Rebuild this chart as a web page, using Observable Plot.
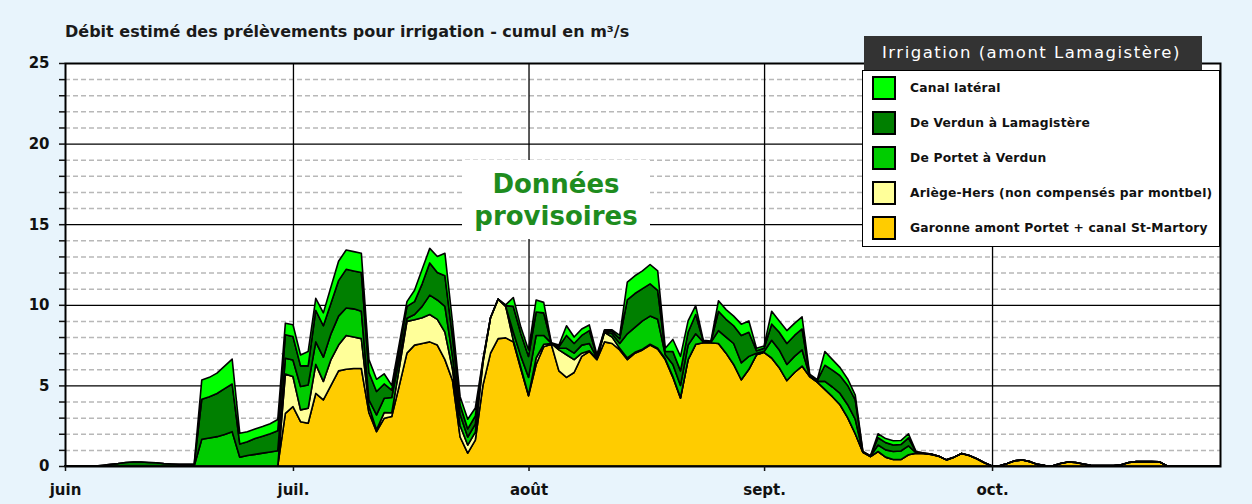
<!DOCTYPE html>
<html><head><meta charset="utf-8">
<script src="https://cdn.jsdelivr.net/npm/d3@7"></script>
<script src="https://cdn.jsdelivr.net/npm/@observablehq/plot@0.6"></script>
<style>
html,body{margin:0;padding:0;background:#E8F4FC;}
#wrap{position:relative;width:1252px;height:504px;background:#E8F4FC;font-family:"DejaVu Sans",sans-serif;overflow:hidden;}
#wrap svg{position:absolute;left:0;top:0;}
#title{position:absolute;left:65px;top:24px;font-size:16px;line-height:16px;font-weight:bold;color:#1a1a1a;white-space:nowrap;}
#prov{position:absolute;left:462px;top:160px;width:188px;height:79px;background:#fff;color:#1E8C1E;font-weight:bold;font-size:26px;line-height:32px;text-align:center;padding-top:8px;box-sizing:border-box;}
#lghead{position:absolute;left:864px;top:36px;width:338px;height:34px;background:#333;color:#fff;font-size:16.5px;letter-spacing:1.5px;line-height:34px;text-indent:18px;white-space:nowrap;}
#lgbody{position:absolute;left:862px;top:70px;width:358px;height:177px;background:#fff;border:1.5px solid #000;box-sizing:border-box;}
.item{position:absolute;left:9px;height:24px;font-size:12.3px;font-weight:bold;color:#111;white-space:nowrap;}
.sw{position:absolute;left:0;top:0;width:24px;height:24px;border:2px solid #000;box-sizing:border-box;}
.lab{position:absolute;left:38px;top:0;line-height:24px;letter-spacing:0.2px;}
</style></head>
<body><div id="wrap"></div>
<script>
// Series (bottom to top of the stack), values in m3/s, daily from 1 June to 31 October
const seriesNames = ["Garonne amont Portet + canal St-Martory","Ariège-Hers (non compensés par montbel)","De Portet à Verdun","De Verdun à Lamagistère","Canal latéral"];
const seriesColors = ["#FFCC00","#FFFF99","#00CC00","#007F00","#00FF00"];
const legendOrder = ["Canal latéral","De Verdun à Lamagistère","De Portet à Verdun","Ariège-Hers (non compensés par montbel)","Garonne amont Portet + canal St-Martory"];
const monthLabels = ["juin","juil.","août","sept.","oct."];
const yMajor = [0,5,10,15,20,25];
const yMinor = [1,2,3,4,6,7,8,9,11,12,13,14,16,17,18,19,21,22,23,24];
const yTicks = [0,1,2,3,4,5,6,7,8,9,10,11,12,13,14,15,16,17,18,19,20,21,22,23,24,25];

const garonne = [
0,0,0,0,0,0,0,0,0,0,
0,0,0,0,0,0,0,0,0,0,
0,0,0,0,0,0,0,0,0,3.27,
3.68,2.75,2.65,4.5,4.1,5.0,5.9,6.0,6.05,6.05,
3.3,2.13,2.96,3.07,5.0,7.0,7.5,7.6,7.7,7.5,
6.6,5.3,1.8,0.8,1.6,5.0,7.0,7.9,7.95,7.7,
6.0,4.35,6.3,7.4,7.55,5.9,5.5,5.8,6.8,7.1,
6.6,7.7,7.6,7.2,6.6,7.0,7.2,7.5,7.25,6.6,
5.5,4.2,6.6,7.55,7.65,7.65,7.6,7.0,6.3,5.35,
6.0,6.9,7.05,6.7,6.1,5.3,5.8,6.2,5.55,5.2,
4.75,4.3,3.8,3.0,2.0,0.85,0.58,0.9,0.55,0.4,
0.4,0.7,0.8,0.78,0.72,0.6,0.38,0.55,0.78,0.65,
0.45,0.2,0,0.02,0.16,0.33,0.37,0.27,0.1,0.03,
0.02,0.15,0.25,0.22,0.12,0.05,0.03,0.03,0.03,0.08,
0.22,0.27,0.27,0.27,0.26,0.02,0,0,0,0,
0,0,0];
const ariege = [
0,0,0,0,0,0,0,0,0,0,
0,0,0,0,0,0,0,0,0,0,
0,0,0,0,0,0,0,0,0,2.43,
1.87,0.73,0.93,1.8,1.15,1.6,1.6,2.1,1.95,1.85,
0.4,0.11,0.35,0.23,1.1,1.97,1.57,1.6,1.7,1.6,
1.7,0.7,0.7,0.5,0.5,1.4,2.2,2.45,1.95,0.1,
0.1,0.05,0.4,0.15,0.05,1.3,1.4,0.8,0.2,0.05,
0.05,0.6,0.4,0.1,0.1,0.05,0.05,0.05,0.05,0.05,
0.05,0.05,0,0,0,0,0,0,0,0,
0,0,0,0,0,0,0,0,0,0,
0,0,0,0,0,0,0,0,0,0,
0,0,0,0,0,0,0,0,0,0,
0,0,0,0,0,0,0,0,0,0,
0,0,0,0,0,0,0,0,0,0,
0,0,0,0,0,0,0,0,0,0,
0,0,0];
const portet = [
0,0,0,0,0,0,0,0,0,0,
0,0,0,0,0,0,0,0,1.66,1.74,
1.82,1.95,2.13,0.54,0.65,0.72,0.8,0.87,0.95,0.99,
1.03,1.45,1.45,1.4,1.5,1.6,1.8,1.7,1.75,1.7,
0.4,0.93,0.89,0.95,0.6,0.2,0.33,0.7,1.2,1.2,
1.6,0.8,0.7,0.5,0.5,0.1,0,0,0,0.5,
0.7,1.1,1.4,0.55,0.02,0.1,0.4,0.4,0.5,0.45,
0.05,0.05,0.2,0.3,1.5,1.55,1.75,1.75,1.8,0.25,
0.75,0.75,0.9,0.65,0.05,0.03,0.8,1.0,1.3,1.05,
0.8,0.1,0.05,1.1,1.1,1.0,1.0,1.0,0.05,0.05,
0.5,0.6,0.7,0.8,0.9,0.02,0.02,0.4,0.45,0.5,
0.53,0.55,0.02,0,0,0,0,0,0,0,
0,0,0,0,0,0,0,0,0,0,
0,0,0,0,0,0,0,0,0,0,
0,0,0,0,0,0,0,0,0,0,
0,0,0];
const verdun = [
0,0,0,0,0,0.05,0.1,0.15,0.22,0.25,
0.25,0.22,0.2,0.15,0.12,0.1,0.1,0.1,2.48,2.56,
2.68,2.85,2.96,0.83,0.85,0.98,1.05,1.13,1.24,1.45,
1.45,1.28,1.18,1.95,1.95,1.9,2.2,2.4,2.35,2.4,
1.7,1.45,0.89,0.45,0.6,0.73,0.8,1.4,2.0,1.7,
1.9,1.2,0.6,0.5,0.5,0.05,0,0,0.05,1.6,
1.4,1.3,1.45,1.4,0.01,0.1,0.8,0.6,0.6,0.8,
0.1,0.05,0.15,0.3,2.1,2.1,2.0,2.0,1.8,0.2,
0.8,0.9,0.8,1.2,0.05,0.03,1.2,1.1,1.1,1.7,
1.5,0.15,0.2,1.0,1.1,1.3,1.3,1.3,0.05,0.05,
1.0,1.05,1.1,1.2,1.2,0.02,0.02,0.45,0.45,0.4,
0.4,0.5,0.06,0.03,0.02,0,0,0,0,0,
0,0,0,0,0,0,0,0,0,0,
0,0,0,0,0,0,0,0,0,0,
0,0,0,0,0,0,0,0,0,0,
0,0,0];
const canal = [
0,0,0,0,0,0,0,0,0,0,
0,0,0,0,0,0,0,0,1.2,1.2,
1.26,1.4,1.54,0.66,0.63,0.6,0.6,0.62,0.69,0.72,
0.73,0.68,0.89,0.75,0.8,1.0,1.2,1.2,1.2,1.2,
0.8,0.76,0.63,0.3,0.3,0.3,0.7,0.9,0.9,1.0,
1.4,0.9,0.5,0.6,0.5,0.05,0,0,0.05,0.55,
0.4,0.4,0.75,0.65,0.02,0.1,0.6,0.4,0.4,0.35,
0.1,0.05,0.1,0.2,1.1,1.1,1.1,1.2,1.2,0.2,
0.75,0.9,0.7,0.55,0.05,0.04,0.65,0.6,0.6,0.7,
0.7,0.15,0.15,0.8,0.7,0.8,0.75,0.75,0.05,0.05,
0.85,0.65,0.5,0.4,0.3,0.02,0.02,0.25,0.25,0.27,
0.25,0.25,0.02,0,0,0,0,0,0,0,
0,0,0,0,0,0,0,0,0,0,
0,0,0,0,0,0,0,0,0,0,
0,0,0,0,0,0,0,0,0,0,
0,0,0];

const seriesValues = [garonne, ariege, portet, verdun, canal];
const start = new Date(Date.UTC(2023, 5, 1));
const end = new Date(Date.UTC(2023, 9, 31));
const monthStarts = [0,1,2,3,4].map(m => new Date(Date.UTC(2023, 5 + m, 1)));

const rows = [];
seriesNames.forEach((name, s) => {
  seriesValues[s].forEach((v, i) => rows.push({date: d3.utcDay.offset(start, i), series: name, value: v}));
});

const chart = Plot.plot({
  width: 1252, height: 504,
  marginLeft: 65, marginRight: 32, marginTop: 63, marginBottom: 38,
  style: {background: "transparent", fontFamily: "'DejaVu Sans', sans-serif", fontSize: "15px", fontWeight: "bold", color: "#111", overflow: "visible"},
  x: {type: "utc", domain: [start, end], label: null},
  y: {domain: [0, 25], label: null},
  color: {domain: seriesNames, range: seriesColors},
  marks: [
    Plot.frame({fill: "white", stroke: null}),
    Plot.ruleY(yMinor, {stroke: "#b8b8b8", strokeWidth: 1.5, strokeDasharray: "5,3"}),
    Plot.ruleY(yMajor.filter(v => v > 0 && v < 25), {stroke: "#000", strokeWidth: 1.3}),
    Plot.ruleX(monthStarts.slice(1), {stroke: "#000", strokeWidth: 1.3}),
    Plot.areaY(rows, {x: "date", y: "value", z: "series", fill: "series", order: seriesNames, stroke: "#000", strokeWidth: 1.6, strokeLinejoin: "round"}),
    Plot.frame({stroke: "#000", strokeWidth: 2}),
    Plot.axisY(yTicks, {tickSize: 6, tickPadding: 10, strokeWidth: 1.5, label: null, tickFormat: d => (yMajor.includes(d) ? String(d) : "")}),
    Plot.axisX(monthStarts, {tickSize: 5, tickPadding: 13, strokeWidth: 1.5, label: null, tickFormat: (d, i) => monthLabels[i]})
  ]
});

const wrap = document.getElementById("wrap");
wrap.appendChild(chart);

const title = document.createElement("div");
title.id = "title";
title.textContent = "Débit estimé des prélèvements pour irrigation - cumul en m³/s";
wrap.appendChild(title);

const prov = document.createElement("div");
prov.id = "prov";
prov.innerHTML = "Données<br>provisoires";
wrap.appendChild(prov);

const head = document.createElement("div");
head.id = "lghead";
head.textContent = "Irrigation (amont Lamagistère)";
wrap.appendChild(head);

const body = document.createElement("div");
body.id = "lgbody";
legendOrder.forEach((name, i) => {
  const it = document.createElement("div");
  it.className = "item";
  it.style.top = (5 + i * 35) + "px";
  const sw = document.createElement("div");
  sw.className = "sw";
  sw.style.background = seriesColors[seriesNames.indexOf(name)];
  const lab = document.createElement("div");
  lab.className = "lab";
  lab.textContent = name;
  it.appendChild(sw); it.appendChild(lab);
  body.appendChild(it);
});
wrap.appendChild(body);
</script>
</body></html>
